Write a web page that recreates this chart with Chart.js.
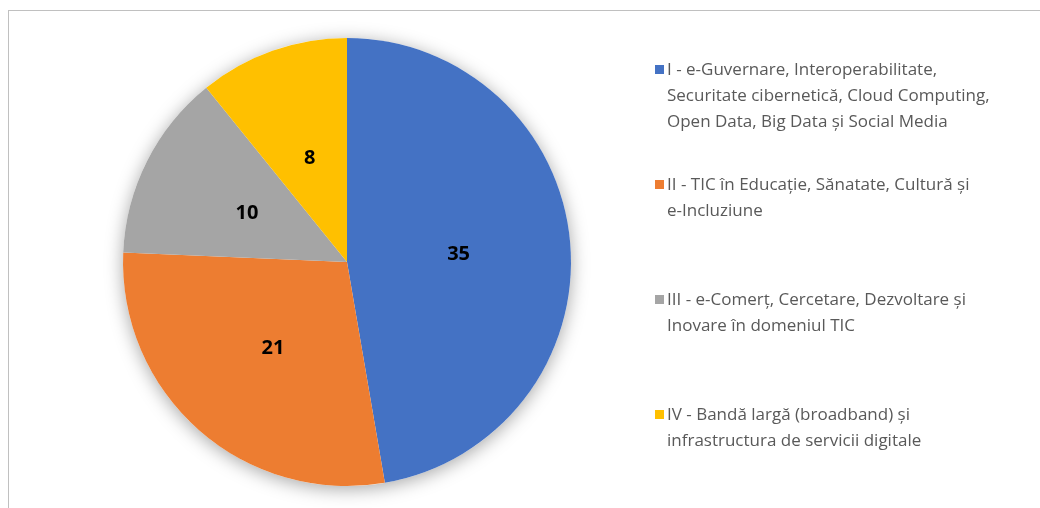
<!DOCTYPE html>
<html>
<head>
<meta charset="utf-8">
<script src="https://cdn.jsdelivr.net/npm/chart.js@4"></script>
<style>
  html, body { margin: 0; padding: 0; background: #fff; }
  body { width: 1040px; height: 508px; position: relative; overflow: hidden; }
  .frame {
    position: absolute; left: 8px; top: 10px; width: 1100px; height: 600px;
    border-left: 1px solid #c0c0c0; border-top: 1px solid #c0c0c0;
  }
  .plot { position: absolute; left: 0; top: 0; width: 694px; height: 508px; }
  #legend {
    position: absolute; left: 655px; top: 56px; margin: 0; padding: 0; list-style: none;
    font-family: "Open Sans", sans-serif; font-size: 17px; color: #595959;
  }
  #legend li { position: relative; padding-left: 12px; line-height: 26px; height: 115px; white-space: nowrap; }
  #legend .box { position: absolute; left: 0; top: 9px; width: 9px; height: 9px; }
</style>
</head>
<body>
<div class="frame"></div>
<div class="plot"><canvas id="pie"></canvas></div>
<ul id="legend"></ul>
<script>
const categories = [
  ['I - e-Guvernare, Interoperabilitate,', 'Securitate cibernetică, Cloud Computing,', 'Open Data, Big Data și Social Media'],
  ['II - TIC în Educație, Sănatate, Cultură și', 'e-Incluziune'],
  ['III - e-Comerț, Cercetare,  Dezvoltare și', 'Inovare în domeniul TIC'],
  ['IV - Bandă largă (broadband) și', 'infrastructura de servicii digitale']
];
const values = [35, 21, 10, 8];
const colors = ['#4472C4', '#ED7D31', '#A5A5A5', '#FFC000'];

// soft shadow behind the pie
const pieShadow = {
  id: 'pieShadow',
  beforeDatasetsDraw(chart) {
    const arc = chart.getDatasetMeta(0).data[0];
    if (!arc) return;
    const ctx = chart.ctx;
    ctx.save();
    ctx.shadowColor = 'rgba(0,0,0,0.35)';
    ctx.shadowBlur = 18;
    ctx.shadowOffsetY = 3;
    ctx.fillStyle = '#ffffff';
    ctx.beginPath();
    ctx.arc(arc.x, arc.y, arc.outerRadius, 0, Math.PI * 2);
    ctx.fill();
    ctx.restore();
  }
};

// value labels in the middle of each slice
const sliceLabels = {
  id: 'sliceLabels',
  afterDatasetsDraw(chart) {
    const ctx = chart.ctx;
    const ds = chart.data.datasets[0];
    ctx.save();
    ctx.font = 'bold 20px "Open Sans", sans-serif';
    ctx.fillStyle = '#000';
    ctx.textAlign = 'center';
    ctx.textBaseline = 'middle';
    chart.getDatasetMeta(0).data.forEach((arc, i) => {
      const p = arc.tooltipPosition();
      ctx.fillText(String(ds.data[i]), p.x, p.y + 2);
    });
    ctx.restore();
  }
};

new Chart(document.getElementById('pie'), {
  type: 'pie',
  data: {
    labels: categories,
    datasets: [{
      data: values,
      backgroundColor: colors,
      borderWidth: 0,
      hoverOffset: 0
    }]
  },
  options: {
    responsive: true,
    maintainAspectRatio: false,
    animation: false,
    layout: { padding: { top: 38, bottom: 22, left: 123, right: 123 } },
    plugins: {
      legend: { display: false },
      tooltip: { enabled: false }
    }
  },
  plugins: [pieShadow, sliceLabels]
});

// html legend, one block per category
const legend = document.getElementById('legend');
categories.forEach((lines, i) => {
  const li = document.createElement('li');
  const box = document.createElement('span');
  box.className = 'box';
  box.style.background = colors[i];
  li.appendChild(box);
  li.insertAdjacentHTML('beforeend', lines.join('<br>'));
  legend.appendChild(li);
});
</script>
</body>
</html>
